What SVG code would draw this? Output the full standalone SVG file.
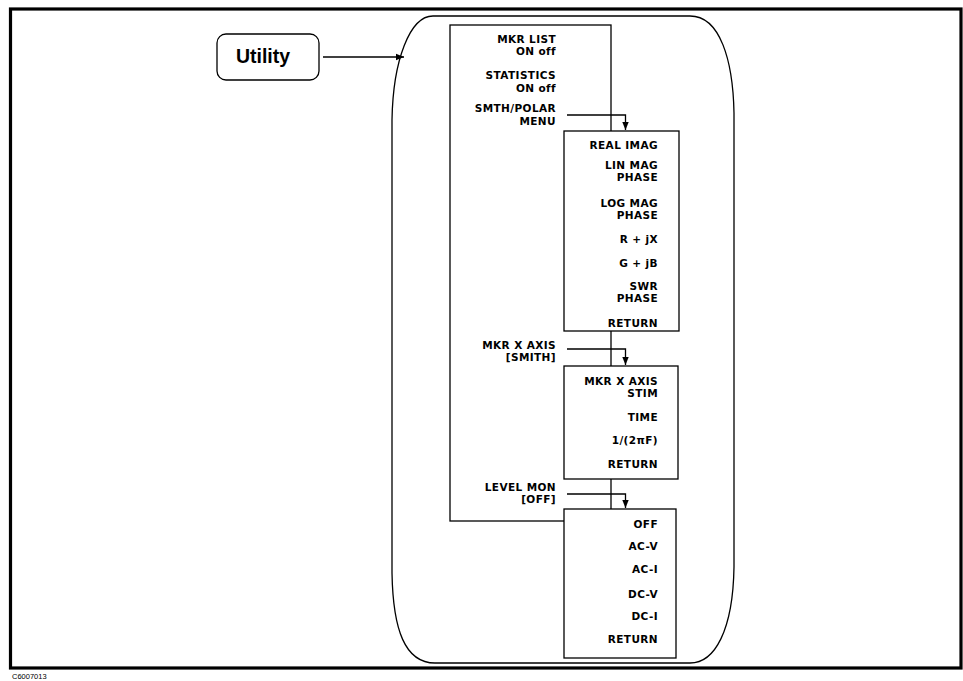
<svg xmlns="http://www.w3.org/2000/svg" width="963" height="681" viewBox="0 0 963 681">
<defs>
<style>
.t{font-family:"DejaVu Sans","Liberation Sans",sans-serif;font-weight:bold;font-size:10.5px;letter-spacing:0.4px;fill:#000;text-anchor:end}
.box{fill:none;stroke:#000;stroke-width:1.3}
.sub{fill:#fff;stroke:#000;stroke-width:1.3}
.ln{fill:none;stroke:#000;stroke-width:1.3}
</style>
<marker id="ah" viewBox="0 0 10 10" refX="10" refY="5" markerWidth="8" markerHeight="8" markerUnits="userSpaceOnUse" orient="auto">
<path d="M0,1 L10,5 L0,9 Z" fill="#000"/>
</marker>
</defs>
<rect width="963" height="681" fill="#fff"/>
<rect x="10.5" y="9" width="950.5" height="659" fill="none" stroke="#000" stroke-width="3.2"/>
<text x="12" y="679" font-family="Liberation Sans, sans-serif" font-size="7.5" fill="#000">C6007013</text>

<g id="utility">
<rect x="217" y="34" width="102" height="46" rx="9" ry="9" class="box"/>
<text x="263" y="63" font-family="Liberation Sans, sans-serif" font-weight="bold" font-size="19.5" text-anchor="middle">Utility</text>
</g>

<g id="utility-panel">
<path class="ln" d="M433,16 L690,16 C720,16 733,60 734,113 L734,567 C733,630 715,663 690,663 L435,663 C405,663 393,630 392,573 L392,120 C393,60 410,16 433,16 Z"/>
</g>

<g id="main-menu">
<rect x="450" y="25" width="161" height="496" class="box"/>
<text class="t" x="556" y="42.5">MKR LIST</text>
<text class="t" x="556" y="55">ON off</text>
<text class="t" x="556" y="79">STATISTICS</text>
<text class="t" x="556" y="91.5">ON off</text>
<text class="t" x="556" y="112">SMTH/POLAR</text>
<text class="t" x="556" y="124.5">MENU</text>
<text class="t" x="556" y="348.5">MKR X AXIS</text>
<text class="t" x="556" y="361">[SMITH]</text>
<text class="t" x="556" y="490.5">LEVEL MON</text>
<text class="t" x="556" y="503">[OFF]</text>
</g>

<g id="smith-menu">
<rect x="564" y="131" width="115" height="200" class="sub"/>
<text class="t" x="658" y="149">REAL IMAG</text>
<text class="t" x="658" y="168.5">LIN MAG</text>
<text class="t" x="658" y="181">PHASE</text>
<text class="t" x="658" y="206.5">LOG MAG</text>
<text class="t" x="658" y="219">PHASE</text>
<text class="t" x="658" y="243">R + jX</text>
<text class="t" x="658" y="267">G + jB</text>
<text class="t" x="658" y="289.5">SWR</text>
<text class="t" x="658" y="302">PHASE</text>
<text class="t" x="658" y="327">RETURN</text>
</g>

<g id="xaxis-menu">
<rect x="564" y="366" width="114" height="113" class="sub"/>
<text class="t" x="658" y="384.5">MKR X AXIS</text>
<text class="t" x="658" y="397">STIM</text>
<text class="t" x="658" y="421">TIME</text>
<text class="t" x="658" y="444">1/(2πF)</text>
<text class="t" x="658" y="468">RETURN</text>
</g>

<g id="level-menu">
<rect x="564" y="509" width="112" height="149" class="sub"/>
<text class="t" x="658" y="528">OFF</text>
<text class="t" x="658" y="550">AC-V</text>
<text class="t" x="658" y="573">AC-I</text>
<text class="t" x="658" y="598">DC-V</text>
<text class="t" x="658" y="620">DC-I</text>
<text class="t" x="658" y="643">RETURN</text>
</g>

<g id="connectors">
<line class="ln" x1="323" y1="57" x2="404" y2="57" marker-end="url(#ah)"/>
<path class="ln" d="M567,115 L625.5,115 L625.5,130" marker-end="url(#ah)"/>
<path class="ln" d="M567,349 L625.5,349 L625.5,365" marker-end="url(#ah)"/>
<path class="ln" d="M567,494 L625.5,494 L625.5,508" marker-end="url(#ah)"/>
</g>
</svg>
